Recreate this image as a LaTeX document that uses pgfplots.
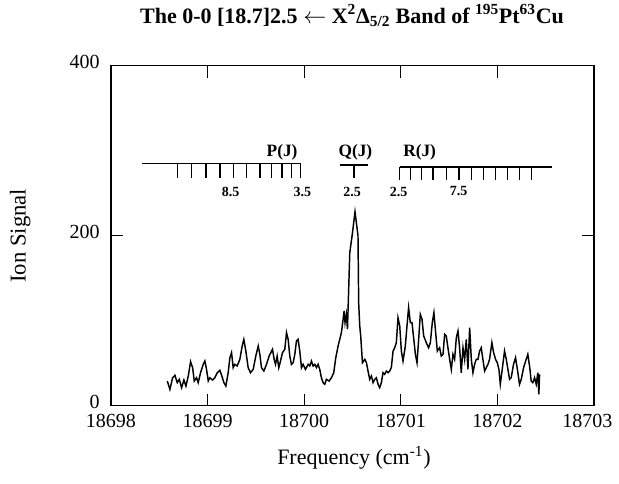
\documentclass[border=0pt]{standalone}
\usepackage{fontspec}
\setmainfont{Liberation Serif}
\usepackage{pgfplots}
\pgfplotsset{compat=1.18}
\begin{document}
\begin{tikzpicture}
\path (-83.25pt,-58.5pt) rectangle (381pt,302.25pt);
\begin{axis}[
  at={(0,0)}, anchor=south west,
  width=362.25pt, height=255pt, scale only axis,
  xmin=18698, xmax=18703, ymin=0, ymax=400,
  xtick={18698,18699,18700,18701,18702},
  extra x ticks={18703},
  extra x tick style={xticklabel style={xshift=-5pt}},
  ytick={0,200,400},
  scaled x ticks=false,
  tick align=inside, major tick length=9pt,
  axis line style={line width=1pt}, every tick/.style={black, line width=0.9pt},
  /pgf/number format/assume math mode=true,
  /pgf/number format/1000 sep={},
  /pgf/number format/fixed, /pgf/number format/precision=0,
  tick label style={font=\fontsize{15}{18}\selectfont},
  yticklabel style={xshift=-5pt, yshift=3pt},
  xticklabel style={yshift=-3pt},
  clip=false,
  xlabel={Frequency (cm\textsuperscript{-1})},
  ylabel={Ion Signal},
  xlabel style={font=\fontsize{16.5}{19}\selectfont, at={(axis description cs:0.503,-0.153)}, anchor=center},
  ylabel style={font=\fontsize{17}{19}\selectfont, at={(axis description cs:-0.188,0.5)}, anchor=center, rotate=0},
  title={\bfseries The 0-0 [18.7]2.5 $\leftarrow$ X\textsuperscript{2}Δ\textsubscript{5/2} Band of \textsuperscript{195}Pt\textsuperscript{63}Cu},
  title style={font=\fontsize{16.5}{19}\selectfont, at={(axis description cs:0.499,1.102)}, anchor=base},
]
\addplot[black, line width=1.1pt] coordinates {
(18698.583,29.0) (18698.610,19.2) (18698.638,32.9) (18698.662,35.7) (18698.686,27.1)
(18698.707,31.0) (18698.731,21.2) (18698.755,30.2) (18698.776,23.1) (18698.800,34.9)
(18698.824,51.8) (18698.845,44.7) (18698.862,29.0) (18698.886,32.9) (18698.903,27.1)
(18698.927,38.8) (18698.955,48.6) (18698.972,52.5) (18698.989,42.7) (18699.007,29.0)
(18699.024,32.9) (18699.051,30.2) (18699.075,32.9) (18699.100,38.8) (18699.127,41.6)
(18699.148,34.9) (18699.169,27.1) (18699.189,23.1) (18699.213,38.8) (18699.231,56.5)
(18699.248,62.4) (18699.265,44.7) (18699.282,48.6) (18699.306,46.7) (18699.334,54.5)
(18699.358,70.2) (18699.375,78.0) (18699.396,64.3) (18699.420,44.7) (18699.444,38.8)
(18699.472,42.7) (18699.499,58.4) (18699.524,70.2) (18699.541,60.4) (18699.558,44.7)
(18699.582,40.8) (18699.610,48.6) (18699.637,58.4) (18699.655,62.4) (18699.672,66.3)
(18699.689,54.5) (18699.703,48.6) (18699.720,58.4) (18699.737,44.7) (18699.755,52.5)
(18699.775,62.4) (18699.799,66.3) (18699.817,85.9) (18699.834,78.0) (18699.851,58.4)
(18699.868,48.6) (18699.886,50.6) (18699.903,60.4) (18699.920,76.1) (18699.937,78.0)
(18699.954,64.3) (18699.972,44.7) (18699.989,48.6) (18700.013,42.7) (18700.041,48.6)
(18700.058,46.7) (18700.075,52.5) (18700.092,46.7) (18700.110,48.6) (18700.127,44.7)
(18700.144,48.6) (18700.161,42.7) (18700.178,32.9) (18700.196,27.1) (18700.213,25.1)
(18700.230,31.0) (18700.258,29.0) (18700.282,32.9) (18700.306,38.8) (18700.327,56.5)
(18700.351,70.2) (18700.368,78.0) (18700.385,85.9) (18700.403,101.6) (18700.413,111.4)
(18700.423,97.6) (18700.437,107.4) (18700.448,90.0) (18700.472,180.0) (18700.500,203.5)
(18700.526,228.0) (18700.557,200.0) (18700.564,121.0) (18700.575,94.0) (18700.585,82.0)
(18700.603,50.6) (18700.627,54.5) (18700.644,50.6) (18700.661,40.8) (18700.678,31.0)
(18700.696,34.9) (18700.713,27.1) (18700.730,31.0) (18700.747,32.9) (18700.765,25.1)
(18700.782,21.2) (18700.799,27.1) (18700.816,38.8) (18700.833,36.9) (18700.851,40.8)
(18700.868,38.8) (18700.885,40.8) (18700.902,44.7) (18700.920,64.3) (18700.937,68.2)
(18700.954,74.1) (18700.971,103.5) (18700.989,93.7) (18701.006,64.3) (18701.023,52.5)
(18701.047,70.2) (18701.064,93.7) (18701.081,115.3) (18701.099,97.6) (18701.116,97.6)
(18701.133,80.0) (18701.151,60.4) (18701.168,50.6) (18701.185,78.0) (18701.202,107.4)
(18701.220,101.6) (18701.237,82.0) (18701.264,74.1) (18701.288,68.2) (18701.306,74.1)
(18701.326,97.6) (18701.343,109.4) (18701.361,85.9) (18701.378,64.3) (18701.402,68.2)
(18701.419,58.4) (18701.437,60.4) (18701.454,83.9) (18701.471,82.0) (18701.488,68.2)
(18701.506,54.5) (18701.523,42.7) (18701.540,60.4) (18701.557,54.5) (18701.575,80.0)
(18701.592,87.8) (18701.609,68.2) (18701.626,38.8) (18701.644,68.2) (18701.661,54.5)
(18701.678,78.0) (18701.695,42.7) (18701.713,91.8) (18701.730,54.5) (18701.747,38.8)
(18701.764,48.6) (18701.781,54.5) (18701.799,54.5) (18701.816,64.3) (18701.833,68.2)
(18701.850,54.5) (18701.868,40.8) (18701.885,44.7) (18701.902,48.6) (18701.919,54.5)
(18701.943,74.1) (18701.961,62.4) (18701.981,54.5) (18701.999,50.6) (18702.016,42.7)
(18702.030,25.1) (18702.050,42.7) (18702.074,64.3) (18702.092,54.5) (18702.109,42.7)
(18702.126,31.0) (18702.143,32.9) (18702.167,48.6) (18702.188,56.5) (18702.212,38.8)
(18702.229,25.1) (18702.247,31.0) (18702.271,44.7) (18702.298,54.5) (18702.315,60.4)
(18702.333,46.7) (18702.350,29.0) (18702.367,27.1) (18702.385,32.9) (18702.402,25.1)
(18702.419,38.8) (18702.429,13.3) (18702.437,36.9)
};
% P branch comb
\addplot[black, line width=1pt, unbounded coords=jump] coordinates {
(18698.317,285) (18699.972,285) (18699.972,nan)
(18698.686,285) (18698.686,268) (18698.686,nan)
(18698.834,285) (18698.834,268) (18698.834,nan)
(18698.982,285) (18698.982,268) (18698.982,nan)
(18699.127,285) (18699.127,268) (18699.127,nan)
(18699.265,285) (18699.265,268) (18699.265,nan)
(18699.403,285) (18699.403,268) (18699.403,nan)
(18699.541,285) (18699.541,268) (18699.541,nan)
(18699.662,285) (18699.662,268) (18699.662,nan)
(18699.771,285) (18699.771,268) (18699.771,nan)
(18699.869,285) (18699.869,268) (18699.869,nan)
(18699.965,285) (18699.965,268)
};
% Q branch
\addplot[black, line width=1pt, unbounded coords=jump] coordinates {
(18700.37,283) (18700.66,283) (18700.66,nan)
(18700.515,283) (18700.515,268)
};
% R branch comb
\addplot[black, line width=1pt, unbounded coords=jump] coordinates {
(18700.99,281) (18702.57,281) (18702.57,nan)
(18700.989,281) (18700.989,266) (18700.989,nan)
(18701.099,281) (18701.099,266) (18701.099,nan)
(18701.213,281) (18701.213,266) (18701.213,nan)
(18701.333,281) (18701.333,266) (18701.333,nan)
(18701.471,281) (18701.471,266) (18701.471,nan)
(18701.602,281) (18701.602,266) (18701.602,nan)
(18701.730,281) (18701.730,266) (18701.730,nan)
(18701.857,281) (18701.857,266) (18701.857,nan)
(18701.981,281) (18701.981,266) (18701.981,nan)
(18702.102,281) (18702.102,266) (18702.102,nan)
(18702.230,281) (18702.230,266) (18702.230,nan)
(18702.351,281) (18702.351,266)
};
\node[font=\bfseries\fontsize{13}{15}\selectfont] at (axis cs:18699.771,297.6) {P(J)};
\node[font=\bfseries\fontsize{13}{15}\selectfont] at (axis cs:18700.53,297.6) {Q(J)};
\node[font=\bfseries\fontsize{13}{15}\selectfont] at (axis cs:18701.195,297.6) {R(J)};
\node[font=\bfseries\fontsize{10.5}{12}\selectfont] at (axis cs:18699.238,252) {8.5};
\node[font=\bfseries\fontsize{10.5}{12}\selectfont] at (axis cs:18699.982,252) {3.5};
\node[font=\bfseries\fontsize{10.5}{12}\selectfont] at (axis cs:18700.496,252) {2.5};
\node[font=\bfseries\fontsize{10.5}{12}\selectfont] at (axis cs:18700.978,252) {2.5};
\node[font=\bfseries\fontsize{10.5}{12}\selectfont] at (axis cs:18701.599,252) {7.5};
\end{axis}
\end{tikzpicture}
\end{document}
